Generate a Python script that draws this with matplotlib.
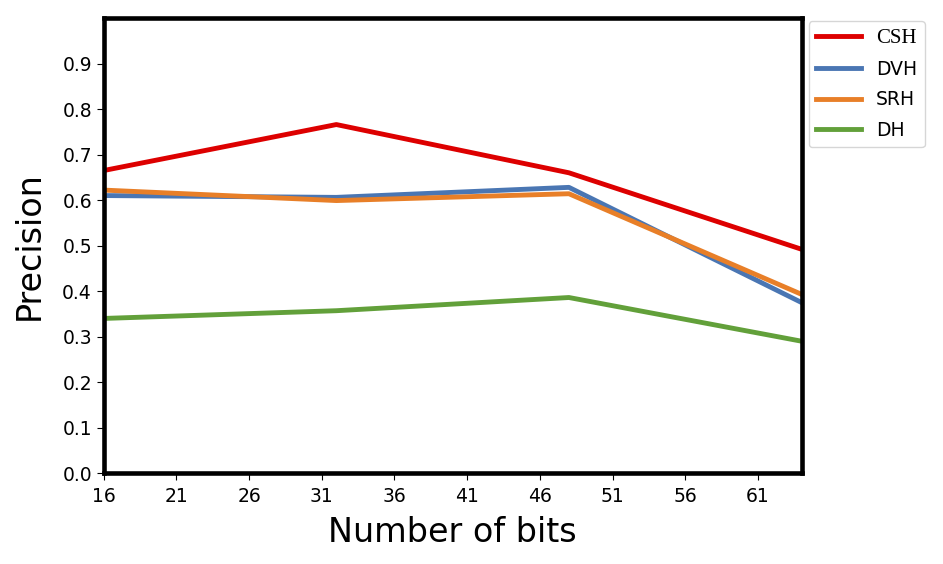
import matplotlib.pyplot as plt
import numpy as np

bits = [16, 32, 48, 64]
csh = [0.665, 0.766, 0.660, 0.492]
dvh = [0.610, 0.606, 0.628, 0.375]
srh = [0.622, 0.599, 0.614, 0.393]
dh = [0.340, 0.357, 0.386, 0.290]

x_ticks = list(range(16, 64, 5))
y_ticks = [round(0.1 * i, 1) for i in range(10)]

fig = plt.figure(figsize=(9.43, 5.64), dpi=100)
ax = fig.add_axes([0.110, 0.161, 0.740, 0.807])

ax.plot(bits, csh, color='#dd0000', lw=3.5, label='CSH')
ax.plot(bits, dvh, color='#4a76b3', lw=3.5, label='DVH')
ax.plot(bits, srh, color='#e87f28', lw=3.5, label='SRH')
ax.plot(bits, dh, color='#62a03a', lw=3.5, label='DH')

ax.set_xlim(16, 64)
ax.set_ylim(0, 1.0)
ax.set_xticks(x_ticks)
ax.set_yticks(y_ticks)
ax.tick_params(labelsize=13.5, length=5)
ax.tick_params(axis='x', pad=5)
for s in ax.spines.values():
    s.set_linewidth(3.3)
ax.set_xlabel('Number of bits', fontsize=24, labelpad=7)
ax.set_ylabel('Precision', fontsize=24, labelpad=12)

leg = ax.legend(loc='upper left', bbox_to_anchor=(1.002, 1.005), fontsize=13.5,
                handlelength=2.4, labelspacing=0.62, borderaxespad=0.3)
leg.get_texts()[0].set_family('Liberation Serif')
leg.get_texts()[0].set_fontsize(15)

fig.savefig('out.png', dpi=100)
